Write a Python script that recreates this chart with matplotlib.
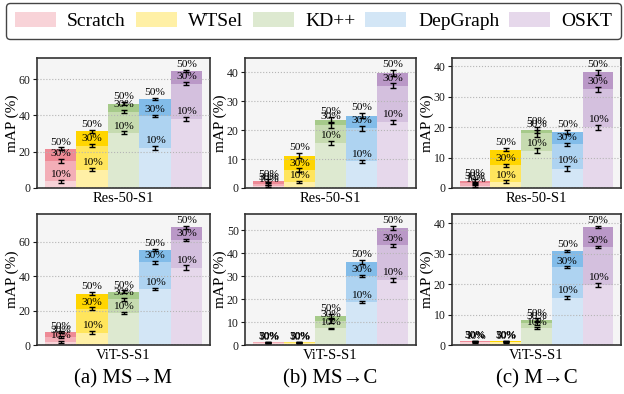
import matplotlib
matplotlib.use("Agg")
import numpy as np
import matplotlib.pyplot as plt
from matplotlib.patches import Patch
from matplotlib.ticker import MultipleLocator

plt.rcParams["font.family"] = ["Liberation Serif", "DejaVu Serif"]

methods = ["Scratch", "WTSel", "KD++", "DepGraph", "OSKT"]
ratios = ["10%", "30%", "50%"]

# mAP (%) per method, rows = 10% / 30% / 50% data
ms_m_res = [[3.6, 10.2, 30.5, 22.0, 38.2],
            [14.8, 23.4, 42.2, 39.8, 57.6],
            [21.6, 31.2, 46.6, 49.2, 64.5]]
ms_m_res_err = [[0.8, 1.0, 0.8, 1.2, 1.2],
                [1.2, 0.8, 0.8, 0.7, 0.8],
                [0.8, 0.9, 0.9, 0.6, 0.7]]

ms_c_res = [[0.8, 2.0, 15.5, 9.2, 22.8],
            [1.5, 6.2, 21.8, 20.6, 35.3],
            [2.4, 11.2, 23.6, 25.0, 39.8]]
ms_c_res_err = [[0.4, 0.4, 0.8, 0.4, 0.8],
                [0.5, 0.6, 1.0, 0.8, 0.8],
                [0.6, 0.9, 1.0, 0.9, 1.0]]

m_c_res = [[0.8, 2.1, 12.2, 6.4, 20.0],
           [1.5, 7.4, 18.0, 14.4, 32.4],
           [2.3, 12.6, 19.1, 18.4, 38.0]]
m_c_res_err = [[0.4, 0.4, 0.8, 0.8, 0.8],
               [0.5, 0.6, 1.2, 0.5, 0.9],
               [0.6, 0.6, 1.0, 0.7, 0.8]]

ms_m_vit = [[2.0, 7.2, 18.6, 32.6, 45.0],
            [4.8, 21.0, 26.6, 48.0, 61.2],
            [7.3, 29.8, 31.0, 55.4, 68.4]]
ms_m_vit_err = [[0.6, 1.0, 0.8, 0.8, 1.2],
                [0.6, 0.8, 0.8, 0.8, 0.6],
                [0.6, 1.0, 0.8, 0.5, 0.8]]

ms_c_vit = [[1.0, 1.0, 7.2, 18.6, 28.3],
            [1.1, 1.1, 10.4, 30.0, 43.4],
            [1.2, 1.2, 12.7, 36.2, 51.0]]
ms_c_vit_err = [[0.2, 0.2, 0.4, 0.5, 0.8],
                [0.2, 0.2, 0.8, 0.5, 0.6],
                [0.2, 0.2, 1.0, 0.8, 0.8]]

m_c_vit = [[1.0, 1.0, 5.5, 15.6, 19.8],
           [1.1, 1.1, 7.2, 25.6, 32.2],
           [1.2, 1.2, 8.2, 31.0, 38.9]]
m_c_vit_err = [[0.2, 0.2, 0.3, 0.5, 0.6],
               [0.2, 0.2, 0.6, 0.3, 0.4],
               [0.2, 0.2, 0.6, 0.4, 0.3]]

backbones = ["Res-50-S1", "ViT-S-S1"]
captions = ["(a) MS\u2192M", "(b) MS\u2192C", "(c) M\u2192C"]
panels = [[(ms_m_res, ms_m_res_err), (ms_c_res, ms_c_res_err), (m_c_res, m_c_res_err)],
          [(ms_m_vit, ms_m_vit_err), (ms_c_vit, ms_c_vit_err), (m_c_vit, m_c_vit_err)]]
steps = [20, 10, 10]

light = ["#F8D3D8", "#FFF0A6", "#DDE9D0", "#D3E6F6", "#E6D8EB"]
mid = ["#F3AEB7", "#FFE55C", "#C6DBB0", "#AED3F1", "#D4C0DE"]
dark = ["#EE8A96", "#FFD500", "#A6CA8A", "#82BCE9", "#BA98C7"]
shades = [light, mid, dark]

W, H = 624, 394
fig = plt.figure(figsize=(W / 100, H / 100), dpi=100)

cols_px = [(37, 210), (245, 416), (452, 621)]
rows_px = [(58, 188), (214, 345)]

x = np.arange(len(methods))
for r, (top, bot) in enumerate(rows_px):
    for c, (left, right) in enumerate(cols_px):
        ax = fig.add_axes([left / W, 1 - bot / H, (right - left) / W, (bot - top) / H])
        vals, errs = panels[r][c]
        ax.set_facecolor("#F5F5F5")
        # tallest (50%) first, so lower levels sit on top
        for k in [2, 1, 0]:
            ax.bar(x, vals[k], width=1.0, color=shades[k], zorder=2, linewidth=0)
        for k in range(3):
            ax.errorbar(x, vals[k], yerr=errs[k], fmt="none", ecolor="black",
                        elinewidth=1, capsize=2.5, capthick=1, zorder=4)
            for i in range(len(methods)):
                ax.annotate(ratios[k], (x[i], vals[k][i] + errs[k][i]), xytext=(0, 0.5),
                            textcoords="offset points", ha="center", va="bottom",
                            fontsize=8.2, zorder=5)
        ymax = max(v + e for v, e in zip(vals[2], errs[2])) * 1.1
        ax.set_ylim(0, ymax)
        ax.set_xlim(-0.75, len(methods) - 0.25)
        ax.yaxis.set_major_locator(MultipleLocator(steps[c]))
        ax.grid(axis="y", linestyle=":", color="#B5B5B5", linewidth=0.8, zorder=3)
        ax.set_axisbelow(False)
        ax.set_xticks([])
        ax.tick_params(axis="y", labelsize=8.5, length=3, width=0.8, pad=1.5, colors="#1A1A1A")
        ax.set_ylabel("mAP (%)", fontsize=11, labelpad=0)
        ax.set_xlabel(backbones[r], fontsize=10.5, labelpad=3)
        for s in ax.spines.values():
            s.set_color("#333333")
            s.set_linewidth(1.2)

for c, (left, right) in enumerate(cols_px):
    fig.text((left + right) / 2 / W, 1 - 379 / H, captions[c], ha="center", va="center",
             fontsize=15)

handles = [Patch(facecolor=light[i], edgecolor="none", label=m) for i, m in enumerate(methods)]
leg = fig.legend(handles=handles, loc="upper center", ncol=5, mode="expand",
                 bbox_to_anchor=(6 / W, 1 - 40 / H, 615 / W, 37 / H), borderaxespad=0,
                 fontsize=14, handlelength=2.1, handleheight=0.8, handletextpad=0.6,
                 frameon=True, fancybox=True, framealpha=1, borderpad=0.45)
leg.get_frame().set_edgecolor("#444444")
leg.get_frame().set_linewidth(1.0)

fig.savefig("out.png", dpi=100)
